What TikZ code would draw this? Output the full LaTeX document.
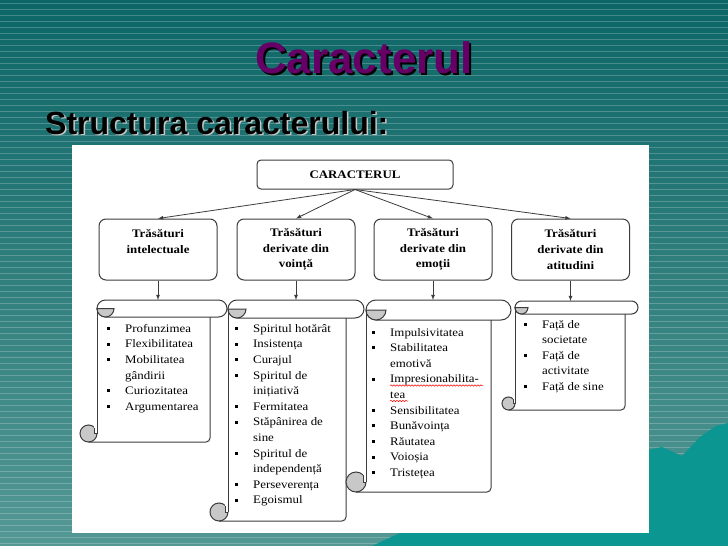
\documentclass[tikz,border=0pt]{standalone}
\usepackage{fontspec}
\usetikzlibrary{decorations.pathmorphing}
\newfontfamily\headfont{Liberation Sans}
\newfontfamily\chartfont[FakeStretch=1.12]{Liberation Serif}
\definecolor{bgtop}{RGB}{12,102,102}
\definecolor{bgbot}{RGB}{84,152,148}
\definecolor{hill}{RGB}{12,150,146}
\definecolor{titlepurple}{RGB}{102,0,102}
\definecolor{edge}{RGB}{60,60,60}
\definecolor{curlgray}{RGB}{200,200,200}
\newcommand{\shadowed}[3]{\rlap{\hspace{#2}\raisebox{-#2}{\color{#1}#3}}#3}
\newcommand{\bul}{\makebox[18pt][l]{\rule[2.3pt]{3pt}{3pt}}}
\newcommand{\cnt}{\hspace*{18pt}}
\tikzset{
	headtext/.style={font=\headfont\bfseries\fontsize{44}{48}\selectfont, inner sep=0},
	subtext/.style={font=\headfont\bfseries\fontsize{32}{36}\selectfont, inner sep=0},
	topbox/.style={draw=edge, line width=1pt, fill=white, rounded corners=4pt, minimum width=196pt, minimum height=29pt, font=\chartfont\bfseries\fontsize{11.5}{14}\selectfont},
	traitbox/.style={draw=edge, line width=1pt, fill=white, rounded corners=7pt, minimum width=118pt, minimum height=61pt, align=center, font=\chartfont\bfseries\fontsize{11.5}{15.6}\selectfont},
	listtext/.style={anchor=north west, inner sep=0, align=left, font=\chartfont\fontsize{11.5}{15.6}\selectfont},
	scrollline/.style={draw=edge, line width=1pt},
	conn/.style={draw=edge, line width=0.8pt, arrows={-latex}},
	spell/.style={red, line width=0.5pt, decorate, decoration={snake, amplitude=0.7pt, segment length=3pt}}
}
% name, left, right, top, bottom, roll radius
\newcommand{\scrollbox}[6]{%
	\coordinate (#1) at ({(#2+#3)/2},#4);
	\draw [scrollline, fill=white, rounded corners=#6pt] (#2,#4) rectangle (#3,#4+2*#6);
	\filldraw [scrollline, fill=curlgray] (#2,#4+#6) arc [start angle=180, end angle=0, radius=#6] -- cycle;
	\filldraw [scrollline, fill=curlgray] (#2-#6,#5-#6) circle [radius=#6];
	\fill [white] (#2-0.3*#6,#5-2*#6) rectangle (#2,#5-#6);
	\draw [scrollline] (#2-0.3*#6,#5-1.7*#6) -- (#2-0.3*#6,#5-#6) -- (#2,#5-#6);
	\draw [scrollline] (#2,#4+#6) -- (#2,#5-#6);
	\draw [scrollline, rounded corners=4pt] (#2-#6,#5) -- (#3-2*#6,#5) -- (#3-2*#6,#4+2*#6);
}
\begin{document}
\begin{tikzpicture}[x=1pt, y=-1pt]
	\useasboundingbox (0,0) rectangle (728,546);
	\shade [top color=bgtop, bottom color=bgbot] (0,0) rectangle (728,546);
	\foreach \y in {3,9,...,543}
		\draw [white, opacity=0.22, line width=0.8pt] (0,\y) -- (728,\y);
	\fill [hill] (372,546) -- (470,500) -- (560,468) -- (640,452) -- (662,447) -- (682,456) -- (700,437) -- (716,426) -- (728,423) -- (728,546) -- cycle;
	\fill [white] (72,145) rectangle (649,533);

	\node [headtext, text=titlepurple, anchor=base] (title) at (364,73) {\shadowed{black}{2pt}{Caracterul}};
	\node [subtext, anchor=base west] (subtitle) at (45,134) {\shadowed{gray!45}{1.5pt}{Structura caracterului:}};

	\node [topbox] (car) at (355,174.5) {CARACTERUL};
	\node [traitbox] (intel) at (158,249.5) {Trăsături\\intelectuale\\\mbox{}};
	\node [traitbox] (will) at (296,249.5) {Trăsături\\derivate din\\voință};
	\node [traitbox] (emo) at (433,249.5) {Trăsături\\derivate din\\emoții};
	\node [traitbox] (att) at (570.5,249.5) {Trăsături\\derivate din\\atitudini};
	\foreach \b in {intel, will, emo, att}
		\draw [conn] (car.south) -- (\b.north);

	\scrollbox{intscroll}{97}{227}{300}{442}{8.5}
	\scrollbox{willscroll}{228}{364}{300}{521}{9}
	\scrollbox{emoscroll}{366}{511}{300}{492}{10}
	\scrollbox{attscroll}{515}{638}{301}{410}{6.5}
	\draw [conn] (intel.south) -- (intel.south |- intscroll);
	\draw [conn] (will.south) -- (will.south |- willscroll);
	\draw [conn] (emo.south) -- (emo.south |- emoscroll);
	\draw [conn] (att.south) -- (att.south |- attscroll);

	\node [listtext] (intlist) at (107,324) {\bul Profunzimea\\\bul Flexibilitatea\\\bul Mobilitatea\\\cnt gândirii\\\bul Curiozitatea\\\bul Argumentarea};
	\node [listtext] (willlist) at (235,324) {\bul Spiritul hotărât\\\bul Insistența\\\bul Curajul\\\bul Spiritul de\\\cnt inițiativă\\\bul Fermitatea\\\bul Stăpânirea de\\\cnt sine\\\bul Spiritul de\\\cnt independență\\\bul Perseverența\\\bul Egoismul};
	\node [listtext] (emolist) at (372,328) {\bul Impulsivitatea\\\bul Stabilitatea\\\cnt emotivă\\\bul Impresionabilita-\\\cnt tea\\\bul Sensibilitatea\\\bul Bunăvoința\\\bul Răutatea\\\bul Voioșia\\\bul Tristețea};
	\node [listtext] (attlist) at (524,320) {\bul Față de\\\cnt societate\\\bul Față de\\\cnt activitate\\\bul Față de sine};
	\draw [spell] (390,385.5) -- (483,385.5);
	\draw [spell] (390,401) -- (408,401);
\end{tikzpicture}
\end{document}
